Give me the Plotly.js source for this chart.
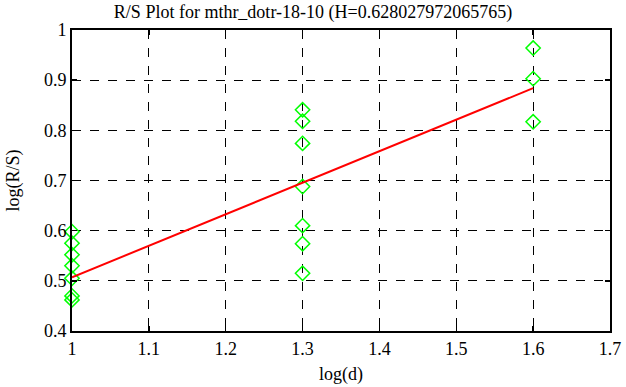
<!DOCTYPE html>
<html>
<head>
<meta charset="utf-8">
<script src="https://cdn.plot.ly/plotly-3.0.1.min.js"></script>
<style>html,body{margin:0;padding:0;background:#fff;}#chart{width:626px;height:387px;}</style>
</head>
<body>
<div id="chart"></div>
<script>
// log(d) values for the R/S points
const logD = [1, 1, 1, 1, 1, 1, 1,
              1.3, 1.3, 1.3, 1.3, 1.3, 1.3, 1.3,
              1.6, 1.6, 1.6];
// log(R/S) values
const logRS = [0.598, 0.575, 0.552, 0.530, 0.505, 0.470, 0.462,
               0.841, 0.818, 0.774, 0.688, 0.610, 0.574, 0.515,
               0.964, 0.903, 0.817];
// fitted line endpoints
const fitX = [1, 1.6];
const fitY = [0.507, 0.884];
const xTicks = [1, 1.1, 1.2, 1.3, 1.4, 1.5, 1.6, 1.7];
const yTicks = [0.4, 0.5, 0.6, 0.7, 0.8, 0.9, 1];
const titleText = 'R/S Plot for mthr_dotr-18-10 (H=0.628027972065765)';

const font = 'Liberation Serif';

const traces = [
  {
    x: logD, y: logRS, type: 'scatter', mode: 'markers',
    marker: {symbol: 'diamond-open', size: 11, color: '#00ff00', line: {color: '#00ff00', width: 1.5}},
    showlegend: false, cliponaxis: false
  },
  {
    x: fitX, y: fitY, type: 'scatter', mode: 'lines',
    line: {color: '#ff0000', width: 2},
    showlegend: false
  }
];

const axisCommon = {
  showline: true, linecolor: '#000', linewidth: 2, mirror: 'ticks',
  ticks: 'inside', ticklen: 5, tickwidth: 1.5, tickcolor: '#000',
  showgrid: true, gridcolor: '#000', griddash: 'dash', gridwidth: 1,
  zeroline: false,
  tickfont: {family: font, size: 18, color: '#000'}
};

const layout = {
  width: 626, height: 387,
  font: {family: font, color: '#000'},
  margin: {l: 72, r: 16, t: 30, b: 56},
  paper_bgcolor: '#fff', plot_bgcolor: '#fff',
  title: {text: titleText, font: {family: font, size: 18, color: '#000'},
          x: 0.5, xref: 'container', y: 0.969, yref: 'container', yanchor: 'middle'},
  xaxis: Object.assign({}, axisCommon, {
    range: [1, 1.7], tickvals: xTicks, ticktext: xTicks.map(String),
    title: {text: 'log(d)', font: {family: font, size: 18, color: '#000'}, standoff: 10}
  }),
  yaxis: Object.assign({}, axisCommon, {
    range: [0.4, 1], tickvals: yTicks, ticktext: yTicks.map(String),
    title: {text: 'log(R/S)', font: {family: font, size: 18, color: '#000'}, standoff: 20}
  })
};

Plotly.newPlot('chart', traces, layout, {staticPlot: true, displayModeBar: false});
</script>
</body>
</html>
